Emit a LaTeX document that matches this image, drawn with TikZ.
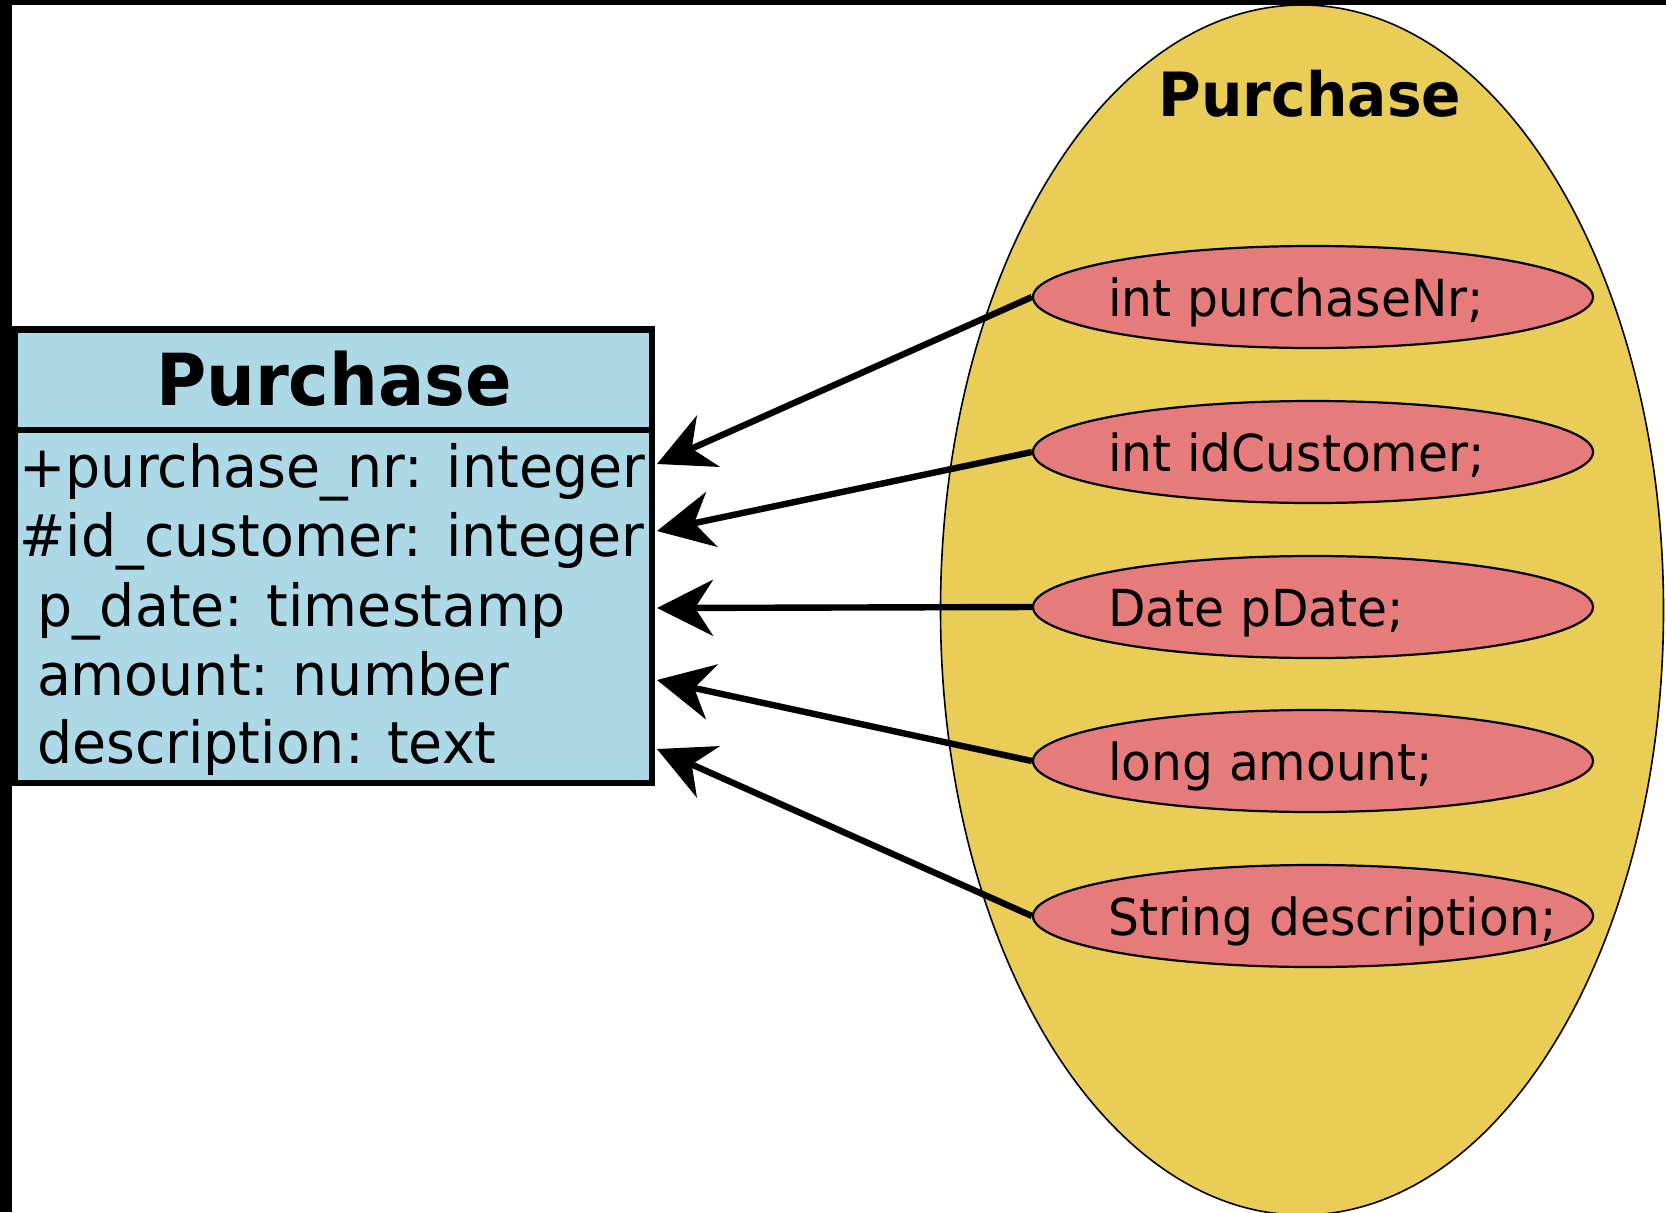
\documentclass[tikz,border=0pt]{standalone}
\usepackage{fontspec}
\setmainfont{DejaVu Sans}
\usetikzlibrary{shapes.geometric,arrows.meta}
\definecolor{boxblue}{RGB}{173,216,230}
\definecolor{classyellow}{RGB}{234,205,86}
\definecolor{fieldred}{RGB}{229,124,123}
\newcommand{\narrowtxt}[1]{\scalebox{0.955}[1]{#1}}
\tikzset{
  bigell/.style={ellipse, draw=black, line width=0.8pt, fill=classyellow, minimum width=361.5pt, minimum height=605pt, inner sep=0pt},
  fieldell/.style={ellipse, draw=black, line width=1.1pt, fill=fieldred, minimum width=280pt, minimum height=51pt, inner sep=0pt},
  fieldtxt/.style={anchor=base west, inner sep=0pt, font=\fontsize{25.5pt}{30pt}\selectfont},
  rowtxt/.style={anchor=base west, inner sep=0pt, font=\fontsize{29pt}{35pt}\selectfont},
  headtxt/.style={anchor=base, inner sep=0pt, font=\fontsize{35.9pt}{42pt}\selectfont\bfseries},
  titletxt/.style={anchor=base, inner sep=0pt, font=\fontsize{30.5pt}{36pt}\selectfont\bfseries},
  boxline/.style={draw=black, line width=3.2pt},
  maparrow/.style={draw=black, line width=3.2pt, -{Stealth[length=28pt,width=28pt,inset=9pt]}}
}
\begin{document}
\begin{tikzpicture}[x=0.5pt,y=-0.5pt]
\clip (0,0) rectangle (1666,1212);
\fill[white] (0,0) rectangle (1666,1212);
\fill[black] (0,0) rectangle (12,1212);
\fill[black] (0,0) rectangle (1666,5);

% class ellipse
\node[bigell] (cls) at (1302,610) {};
\node[titletxt] (clstitle) at (1310,116) {\narrowtxt{Purchase}};

% field ellipses
\node[fieldell] (e1) at (1313,297) {};
\node[fieldell] (e2) at (1313,452) {};
\node[fieldell] (e3) at (1313,607) {};
\node[fieldell] (e4) at (1313,761) {};
\node[fieldell] (e5) at (1313,916) {};
\node[fieldtxt] (f1) at (1108,316) {\narrowtxt{int purchaseNr;}};
\node[fieldtxt] (f2) at (1108,471) {\narrowtxt{int idCustomer;}};
\node[fieldtxt] (f3) at (1108,626) {\narrowtxt{Date pDate;}};
\node[fieldtxt] (f4) at (1108,780) {\narrowtxt{long amount;}};
\node[fieldtxt] (f5) at (1108,935) {\narrowtxt{String description;}};

% table box
\draw[boxline, fill=boxblue] (15,329.5) rectangle (652,783);
\draw[boxline] (15,430) -- (652,430);
\node[headtxt] (head) at (334,405) {\narrowtxt{Purchase}};
\node[rowtxt] (r1) at (19,487) {\narrowtxt{+purchase\_nr: integer}};
\node[rowtxt] (r2) at (19,556) {\narrowtxt{\#id\_customer: integer}};
\node[rowtxt] (r3) at (19,626) {\narrowtxt{\ p\_date: timestamp}};
\node[rowtxt] (r4) at (19,695) {\narrowtxt{\ amount: number}};
\node[rowtxt] (r5) at (19,763) {\narrowtxt{\ description: text}};

\coordinate (t1) at (657,464);
\coordinate (t2) at (657,531);
\coordinate (t3) at (657,608);
\coordinate (t4) at (657,680);
\coordinate (t5) at (657,749);

\draw[maparrow] (e1.west) -- (t1);
\draw[maparrow] (e2.west) -- (t2);
\draw[maparrow] (e3.west) -- (t3);
\draw[maparrow] (e4.west) -- (t4);
\draw[maparrow] (e5.west) -- (t5);
\end{tikzpicture}
\end{document}
